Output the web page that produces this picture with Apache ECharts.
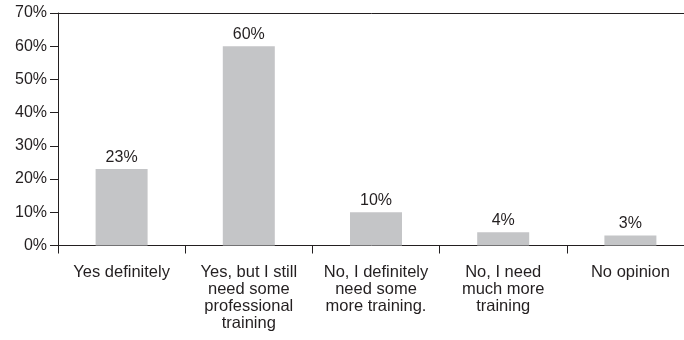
<!DOCTYPE html>
<html>
<head>
<meta charset="utf-8">
<script src="https://cdn.jsdelivr.net/npm/echarts@6/dist/echarts.min.js"></script>
<style>
  html, body { margin: 0; padding: 0; background: #fff; }
  #chart { width: 684px; height: 340px; }
</style>
</head>
<body>
<div id="chart"></div>
<script>
// Survey responses: share of respondents per answer
const categories = [
  'Yes definitely',
  'Yes, but I still\nneed some\nprofessional\ntraining',
  'No, I definitely\nneed some\nmore training.',
  'No, I need\nmuch more\ntraining',
  'No opinion'
];
const shares = [23, 60, 10, 4, 3];
const yTicks = [0, 10, 20, 30, 40, 50, 60, 70];

const font = '"Liberation Sans", Arial, Helvetica, sans-serif';
const ink = '#231f20';

const chart = echarts.init(document.getElementById('chart'), null, { renderer: 'canvas' });
chart.setOption({
  animation: false,
  // plot area runs a little past the right edge of the canvas
  grid: {
    left: 58, width: 636, top: 13, bottom: 94.5,
    containLabel: false, outerBoundsMode: 'none'
  },
  xAxis: [
    {
      type: 'category',
      data: categories,
      position: 'bottom',
      axisLine: { show: true, lineStyle: { color: ink, width: 1 } },
      axisTick: { show: true, length: 8, alignWithLabel: false, lineStyle: { color: ink } },
      axisLabel: {
        color: ink, fontFamily: font, fontSize: 16.5, lineHeight: 17,
        margin: 18, interval: 0
      }
    },
    {
      type: 'category',
      data: categories,
      position: 'top',
      axisLine: { show: true, lineStyle: { color: ink, width: 1 } },
      axisTick: { show: false },
      axisLabel: { show: false }
    }
  ],
  yAxis: {
    type: 'value',
    min: yTicks[0],
    max: yTicks[yTicks.length - 1],
    interval: 10,
    axisLine: { show: true, lineStyle: { color: ink, width: 1 } },
    axisTick: { show: true, length: 8, inside: false, lineStyle: { color: ink } },
    splitLine: { show: false },
    axisLabel: {
      color: ink, fontFamily: font, fontSize: 16, margin: 11,
      formatter: v => v + '%'
    }
  },
  series: [{
    type: 'bar',
    data: shares,
    barWidth: 52,
    itemStyle: { color: '#c4c5c7' },
    label: {
      show: true, position: 'top', distance: 4,
      color: ink, fontFamily: font, fontSize: 16,
      formatter: p => p.value + '%'
    }
  }]
});
</script>
</body>
</html>
